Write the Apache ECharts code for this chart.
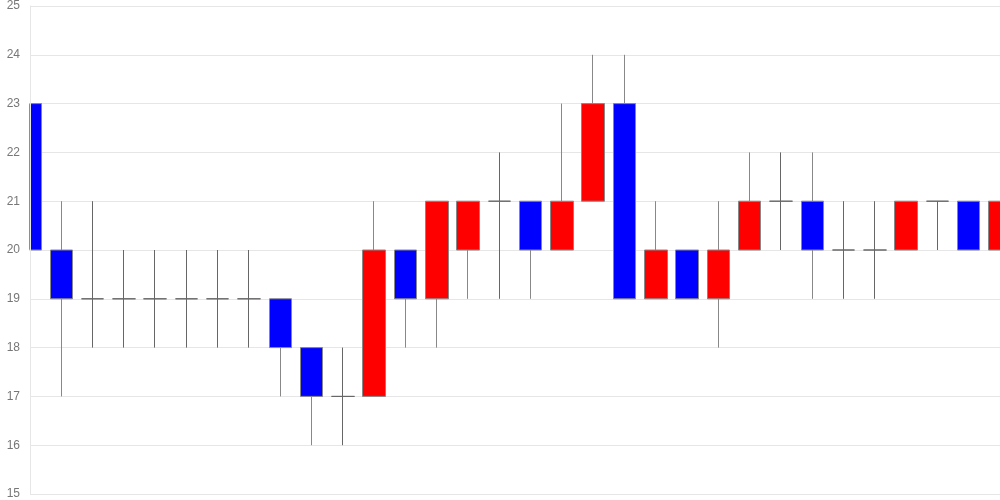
<!DOCTYPE html>
<html>
<head>
<meta charset="utf-8">
<script src="https://cdn.jsdelivr.net/npm/echarts@6/dist/echarts.min.js"></script>
<style>
  html, body { margin: 0; padding: 0; background: #fff; }
  #chart { width: 1000px; height: 500px; }
</style>
</head>
<body>
<div id="chart"></div>
<script>
// 每根K线：开盘、收盘、最低、最高
const days = Array.from({ length: 32 }, (_, i) => 'D' + (i + 1))
const opens  = [23, 20, 19, 19, 19, 19, 19, 19, 19, 18, 17, 17, 20, 19, 20, 21, 21, 20, 21, 23, 19, 20, 19, 20, 21, 21, 20, 20, 20, 21, 21, 20]
const closes = [20, 19, 19, 19, 19, 19, 19, 19, 18, 17, 17, 20, 19, 21, 21, 21, 20, 21, 23, 19, 20, 19, 20, 21, 21, 20, 20, 20, 21, 21, 20, 21]
const lows   = [20, 17, 18, 18, 18, 18, 18, 18, 17, 16, 16, 17, 18, 18, 19, 19, 19, 20, 21, 19, 19, 19, 18, 20, 20, 19, 19, 19, 20, 20, 20, 20]
const highs  = [23, 21, 21, 20, 20, 20, 20, 20, 19, 18, 18, 21, 20, 21, 21, 22, 21, 23, 24, 24, 21, 20, 21, 22, 22, 22, 21, 21, 21, 21, 21, 21]
const yMin = 15
const yMax = 25

const candles = days.map((d, i) => [opens[i], closes[i], lows[i], highs[i]])

const chart = echarts.init(document.getElementById('chart'))
chart.setOption({
  animation: false,
  grid: { left: 30, right: 0, top: 6, bottom: 6 },
  // 遮住网格左侧溢出的半根K线
  graphic: [
    {
      type: 'rect',
      z: 3,
      shape: { x: 0, y: 0, width: 29.5, height: 500 },
      style: { fill: '#fff' }
    }
  ],
  xAxis: {
    type: 'category',
    data: days,
    boundaryGap: false,
    show: false
  },
  yAxis: [
    {
      // 网格线，画在K线下面
      type: 'value',
      min: yMin,
      max: yMax,
      interval: 1,
      axisLine: { show: false },
      axisTick: { show: false },
      axisLabel: { show: false },
      splitLine: { lineStyle: { color: '#e6e6e6' } }
    },
    {
      // 刻度文字和轴线，画在遮罩上面
      type: 'value',
      position: 'left',
      min: yMin,
      max: yMax,
      interval: 1,
      z: 10,
      axisLine: { show: true, lineStyle: { color: '#e6e6e6' } },
      axisTick: { show: false },
      axisLabel: { color: '#777', fontSize: 12, margin: 10 },
      splitLine: { show: false }
    }
  ],
  series: [
    {
      type: 'candlestick',
      data: candles,
      barWidth: 23,
      itemStyle: {
        color: '#ff0000',
        color0: '#0000ff',
        borderColor: '#888',
        borderColor0: '#888',
        borderColorDoji: '#666',
        borderWidth: 1
      }
    }
  ]
})
</script>
</body>
</html>
